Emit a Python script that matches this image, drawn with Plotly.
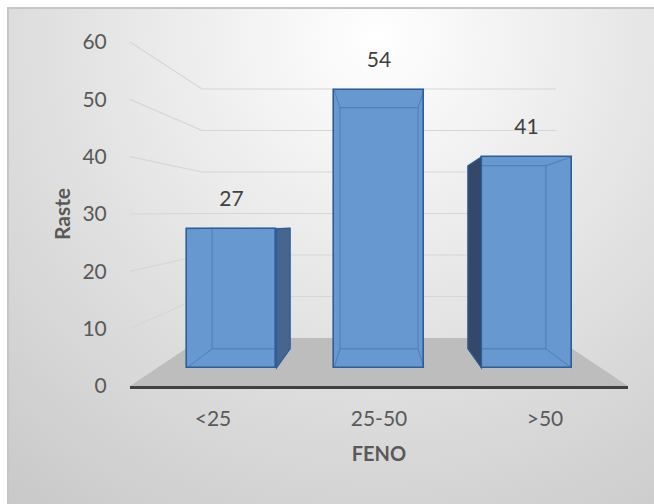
import base64
import plotly.graph_objects as go

categories = ["<25", "25-50", ">50"]
values = [27, 54, 41]
y_ticks = [0, 10, 20, 30, 40, 50, 60]

W, H = 654, 504
ML, MR, MT, MB = 130, 26, 42, 118
PW, PH = W - ML - MR, H - MT - MB
FONT = "Lato"
TXT = "#595959"

# background gradient (chart area)
svg = f'''<svg xmlns="http://www.w3.org/2000/svg" width="647" height="497" viewBox="0 0 647 497">
<defs><radialGradient id="g" gradientUnits="userSpaceOnUse" cx="370" cy="30" r="600">
<stop offset="0" stop-color="#ffffff"/><stop offset="0.62" stop-color="#dcdcdc"/><stop offset="1" stop-color="#c8c8c8"/>
</radialGradient></defs>
<rect x="0" y="0" width="647" height="497" fill="url(#g)"/>
<line x1="0" y1="1" x2="647" y2="1" stroke="#c6c6c6" stroke-width="2"/>
<line x1="1" y1="0" x2="1" y2="497" stroke="#c6c6c6" stroke-width="2"/>
</svg>'''
src = "data:image/svg+xml;base64," + base64.b64encode(svg.encode()).decode()

fig = go.Figure()

# invisible trace for category axis labels
fig.add_trace(go.Scatter(x=categories, y=[0] * 3, mode="markers",
                         marker=dict(opacity=0), hoverinfo="skip", showlegend=False,
                         xaxis="x", yaxis="y"))

bw = 0.61
fig.add_trace(go.Bar(
    x=list(range(len(values))), y=values, base=0, width=bw,
    marker=dict(color="#6898d0", line=dict(color="#2e5d97", width=1.6)),
    xaxis="x2", yaxis="y2", showlegend=False, hoverinfo="skip",
))

label_offset = 5.5
fig.add_trace(go.Scatter(
    x=list(range(len(values))), y=[v + label_offset for v in values],
    mode="text", text=[str(v) for v in values], textposition="middle center",
    textfont=dict(family=FONT, size=21, color="#404040"),
    cliponaxis=False, xaxis="x2", yaxis="y2", showlegend=False, hoverinfo="skip",
))

shapes = []
# floor
back_l = 72 / PW
back_r = 1 - back_l
floor_h = 48 / PH
shapes.append(dict(type="path", xref="paper", yref="paper", layer="below",
                   path=f"M 0,0 L {back_l},{floor_h} L {back_r},{floor_h} L 1,0 Z",
                   fillcolor="#bdbdbd", line=dict(width=0)))
# perspective gridlines
back_step = 41.5 / PH
for k in y_ticks[1:]:
    fy = k / 60
    by = floor_h + (k / 10) * back_step
    shapes.append(dict(type="path", xref="paper", yref="paper", layer="below",
                       path=f"M 0,{fy} L {back_l},{by} L {back_r},{by}",
                       line=dict(color="#d6d6d6", width=1.2)))

# 3-D depth of the bars: back face = perspective projection toward a vanishing point
center = (len(values) - 1) / 2
VX, VY, S = center, 28.0, 0.867


def back(px, py):
    return VX + S * (px - VX), VY + S * (py - VY)


for i, v in enumerate(values):
    xl, xr = i - bw / 2, i + bw / 2
    corners = [(xl, 0), (xr, 0), (xr, v), (xl, v)]
    bc = [back(*c) for c in corners]
    # inner (back) edges seen through the bar
    p = "M " + " L ".join(f"{x},{y}" for x, y in bc) + " Z"
    shapes.append(dict(type="path", xref="x2", yref="y2", layer="above", path=p,
                       line=dict(color="rgba(46,93,151,0.45)", width=1)))
    for (fx, fy), (bx, by) in zip(corners, bc):
        shapes.append(dict(type="line", xref="x2", yref="y2", layer="above",
                           x0=fx, y0=fy, x1=bx, y1=by,
                           line=dict(color="rgba(46,93,151,0.45)", width=1)))
    # visible side face
    if i != center:
        if i < center:
            f0, f1, b0, b1 = corners[1], corners[2], bc[1], bc[2]
            col = "#46658f"
        else:
            f0, f1, b0, b1 = corners[0], corners[3], bc[0], bc[3]
            col = "#34496a"
        p = f"M {f0[0]},{f0[1]} L {b0[0]},{b0[1]} L {b1[0]},{b1[1]} L {f1[0]},{f1[1]} Z"
        shapes.append(dict(type="path", xref="x2", yref="y2", layer="above", path=p,
                           fillcolor=col, line=dict(color="#2e5d97", width=1.2)))

fig.update_layout(
    width=W, height=H,
    margin=dict(l=ML, r=MR, t=MT, b=MB),
    paper_bgcolor="white",
    plot_bgcolor="rgba(0,0,0,0)",
    font=dict(family=FONT, color=TXT),
    images=[dict(source=src, xref="paper", yref="paper",
                 x=(7 - ML) / PW, y=(H - MB - 7) / PH,
                 sizex=(W - 7) / PW, sizey=(H - 7) / PH,
                 xanchor="left", yanchor="top", sizing="stretch", layer="below")],
    shapes=shapes,
    xaxis=dict(type="category", categoryorder="array", categoryarray=categories,
               range=[-0.5, 2.5], showgrid=False, zeroline=False,
               showline=True, linecolor="#404040", linewidth=3,
               ticks="outside", ticklen=12, tickcolor="rgba(0,0,0,0)",
               tickfont=dict(family=FONT, size=21, color=TXT),
               title=dict(text="<b>FENO</b>", font=dict(family=FONT, size=20, color=TXT),
                          standoff=18)),
    xaxis2=dict(range=[-0.688, 2.688], overlaying="x", visible=False),
    yaxis=dict(range=[0, 60], tickvals=y_ticks, showgrid=False, zeroline=False,
               showline=False, ticks="outside", ticklen=18, tickcolor="rgba(0,0,0,0)",
               tickfont=dict(family=FONT, size=21, color=TXT),
               title=dict(text="<b>Raste</b>", font=dict(family=FONT, size=21, color=TXT),
                          standoff=6)),
    yaxis2=dict(range=[-3.5, 63.3], overlaying="y", visible=False),
    bargap=0,
)

fig.write_html("out.html")
